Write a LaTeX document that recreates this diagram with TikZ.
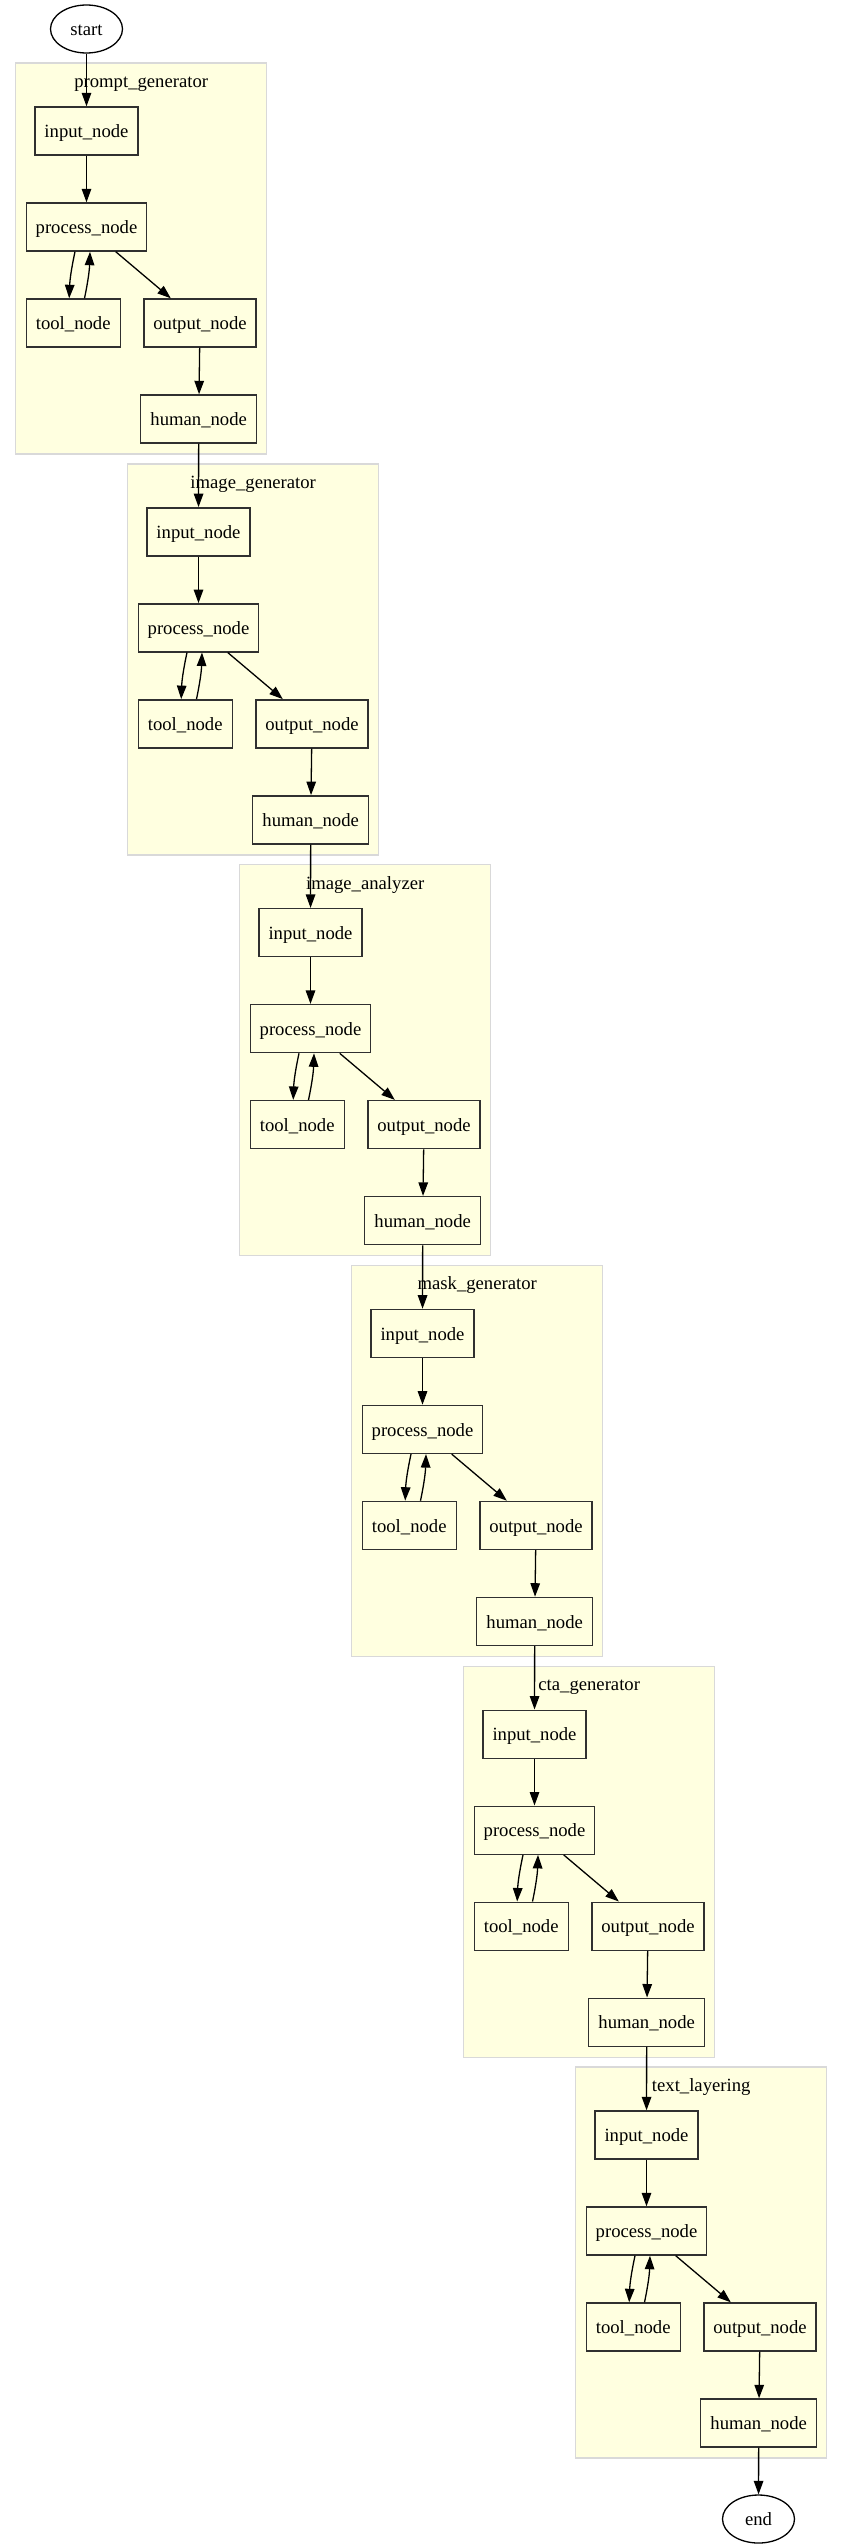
\documentclass[tikz,border=0pt]{standalone}
\usepackage{fontspec}
\setmainfont{Liberation Serif}
\usetikzlibrary{arrows.meta,shapes.geometric}
\definecolor{clfill}{HTML}{FFFFE0}
\definecolor{cldraw}{HTML}{D9D9D9}
\definecolor{ndraw}{HTML}{303030}
\begin{document}
\begin{tikzpicture}[x=1pt,y=-1pt,
  font=\fontsize{18.67}{22}\selectfont,
  box/.style={draw=ndraw, line width=1.4pt, fill=clfill, rectangle, minimum height=48pt, inner sep=0pt, text height=13.4pt, text depth=0pt},
  oval/.style={draw=black, line width=1.3pt, ellipse, minimum width=72pt, minimum height=48pt, inner sep=0pt, text height=13.4pt, text depth=0pt},
  edge/.style={draw=black, line width=1.3pt, -{Triangle[length=13.5pt,width=9.5pt]}},
  cluster/.style={draw=cldraw, line width=1.4pt, fill=clfill}]
\useasboundingbox (0,0) rectangle (843,2548);
\fill[white] (0,0) rectangle (843,2548);
\node[oval] (start) at (86.5,29) {start};
\node[oval] (end) at (758.5,2519) {end};
\foreach \k/\lab in {0/prompt\_generator,1/image\_generator,2/image\_analyzer,3/mask\_generator,4/cta\_generator,5/text\_layering}{
  \begin{scope}[shift={(112*\k,400.8*\k)}]
    \draw[cluster] (15.7,63) rectangle (266.7,454);
    \node[anchor=base] (lab\k) at (141.2,87.5) {\lab};
    \node[box, minimum width=103pt] (in\k) at (86.5,131) {input\_node};
    \node[box, minimum width=120pt] (pr\k) at (86.5,227) {process\_node};
    \node[box, minimum width=94pt] (to\k) at (73.2,323) {tool\_node};
    \node[box, minimum width=112pt] (ou\k) at (200,323) {output\_node};
    \node[box, minimum width=116pt] (hu\k) at (198.7,419) {human\_node};
    \draw[edge] (in\k) -- (pr\k);
    \draw[edge] ([xshift=-11.5pt]pr\k.south) to[bend right=5] ([xshift=-4pt]to\k.north);
    \draw[edge] ([xshift=11.3pt]to\k.north) to[bend right=5] ([xshift=3.5pt]pr\k.south);
    \draw[edge] (pr\k) -- (ou\k);
    \draw[edge] (ou\k) -- (hu\k);
  \end{scope}
}
\draw[edge] (start) -- (in0);
\foreach \k [evaluate=\k as \n using int(\k+1)] in {0,...,4}{
  \draw[edge] (hu\k) -- (in\n);
}
\draw[edge] (hu5) -- (end);
\end{tikzpicture}
\end{document}
